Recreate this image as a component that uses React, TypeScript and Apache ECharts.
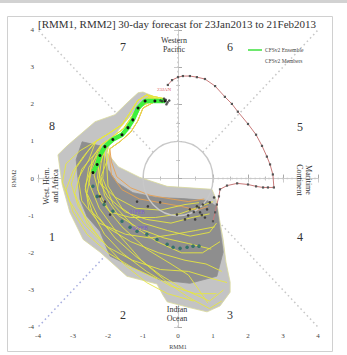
import React, { useEffect, useRef } from "react";
import * as echarts from "echarts";

// Observed RMM trajectory (oldest first), ending 23Jan2013
const observedPath: number[][] = [
  [1.0, -1.15], [1.06, -0.91], [1.11, -0.7], [1.17, -0.48], [1.2, -0.29], [1.4, -0.19],
  [1.69, -0.13], [2.0, -0.16], [2.23, -0.21], [2.43, -0.24], [2.57, -0.24], [2.74, -0.24],
  [2.71, 0.11], [2.63, 0.38], [2.54, 0.59], [2.4, 0.88], [2.23, 1.18], [2.0, 1.47],
  [1.71, 1.8], [1.54, 2.01], [1.34, 2.2], [1.06, 2.49], [0.77, 2.68], [0.54, 2.73],
  [0.34, 2.76], [0.14, 2.76], [0.0, 2.73], [-0.17, 2.65], [-0.29, 2.52],
];

// CFSv2 ensemble mean forecast
const ensembleMean: number[][] = [
  [-0.37, 2.09], [-0.66, 2.09], [-0.94, 2.09], [-1.14, 1.9], [-1.29, 1.58], [-1.43, 1.37],
  [-1.6, 1.18], [-1.86, 1.05], [-2.09, 0.86], [-2.23, 0.62], [-2.31, 0.38], [-2.43, 0.16],
  [-2.43, -0.21], [-2.31, -0.48], [-2.11, -0.7], [-1.86, -0.88], [-1.6, -1.15], [-1.37, -1.31],
  [-1.17, -1.42], [-0.89, -1.5], [-0.6, -1.64], [-0.31, -1.77], [-0.14, -1.85], [0.06, -1.88],
  [0.26, -1.85], [0.43, -1.82], [0.6, -1.82],
];
const greenDays = 12;

// early parts of member tracks
const upperA = [[-0.4, 2.1], [-0.8, 2.18], [-1.0, 2.05], [-1.2, 1.75], [-1.4, 1.4], [-1.7, 1.15], [-2.0, 0.95]];
const upperB = [[-0.4, 2.05], [-0.75, 2.1], [-1.05, 1.95], [-1.25, 1.6], [-1.5, 1.3], [-1.8, 1.05], [-2.1, 0.85]];
const upperC = [[-0.4, 2.1], [-0.85, 2.2], [-1.1, 2.0], [-1.3, 1.7], [-1.55, 1.35], [-1.9, 1.1], [-2.2, 0.9]];
const upperD = [[-0.4, 2.15], [-0.9, 2.25], [-1.15, 2.1], [-1.35, 1.8], [-1.6, 1.45], [-2.0, 1.2], [-2.35, 1.0]];
const upperE = [[-0.4, 2.1], [-0.7, 2.05], [-1.0, 1.9], [-1.15, 1.55], [-1.35, 1.25], [-1.65, 1.0], [-1.95, 0.8]];

const members: number[][][] = [
  [...upperA, [-2.3, 0.6], [-2.5, 0.1], [-2.6, -0.4], [-2.3, -1.0], [-1.8, -1.6], [-1.2, -2.1], [-0.5, -2.6], [0.2, -3.0], [0.9, -3.3], [1.3, -3.0]],
  [...upperD, [-2.7, 0.6], [-3.0, 0.2], [-3.2, -0.3], [-3.0, -0.9], [-2.6, -1.5], [-2.0, -2.0], [-1.3, -2.4], [-0.6, -2.7]],
  [...upperE, [-1.95, 0.5], [-1.9, 0.1], [-1.6, -0.3], [-1.1, -0.55], [-0.5, -0.65], [0.1, -0.75], [0.55, -0.85], [0.85, -0.75]],
  [...upperB, [-2.25, 0.5], [-2.3, 0.0], [-2.0, -0.5], [-1.5, -0.9], [-0.9, -1.1], [-0.2, -1.2], [0.4, -1.05], [0.9, -0.95]],
  [...upperC, [-2.4, 0.5], [-2.65, -0.2], [-2.55, -0.8], [-2.05, -1.3], [-1.35, -1.7], [-0.55, -2.0], [0.2, -2.2], [0.8, -2.3], [1.25, -2.5]],
  [...upperA, [-2.15, 0.6], [-2.4, 0.1], [-2.2, -0.6], [-1.6, -1.3], [-0.9, -1.9], [-0.2, -2.3], [0.3, -2.6], [0.6, -3.0], [0.85, -3.35]],
  [...upperD, [-2.55, 0.5], [-2.85, 0.0], [-2.75, -0.6], [-2.25, -1.2], [-1.5, -1.5], [-0.8, -1.6], [-0.1, -1.5], [0.5, -1.4], [1.05, -1.3]],
  [...upperE, [-1.9, 0.45], [-1.75, 0.05], [-1.35, -0.25], [-0.8, -0.45], [-0.2, -0.55], [0.3, -0.62], [0.75, -0.55]],
  [...upperD, [-2.6, 0.7], [-2.9, 0.3], [-3.05, -0.15], [-2.85, -0.75], [-2.25, -1.6], [-1.55, -2.3], [-0.9, -2.8], [-0.3, -3.1], [0.45, -3.3]],
  [...upperB, [-2.1, 0.55], [-2.15, 0.0], [-1.85, -0.7], [-1.25, -1.3], [-0.6, -1.7], [0.1, -2.0], [0.7, -2.0], [1.2, -1.7]],
  [...upperC, [-2.45, 0.55], [-2.55, -0.1], [-2.25, -0.8], [-1.75, -1.45], [-1.05, -2.2], [-0.3, -2.8], [0.3, -3.2], [0.9, -3.5], [1.25, -3.3]],
  [...upperB, [-2.2, 0.4], [-2.3, -0.3], [-1.95, -0.9], [-1.35, -1.05], [-0.65, -1.05], [0.05, -0.95], [0.65, -0.75], [1.0, -0.62]],
  [...upperC, [-2.35, 0.7], [-2.75, 0.25], [-2.95, -0.4], [-2.6, -1.2], [-2.0, -1.85], [-1.3, -2.2], [-0.5, -2.45], [0.3, -2.5], [1.0, -2.7], [1.4, -2.8]],
  [...upperA, [-2.05, 0.55], [-2.0, -0.2], [-1.6, -0.8], [-1.0, -1.2], [-0.3, -1.4], [0.35, -1.55], [0.9, -1.45], [1.1, -1.2]],
  [...upperE, [-2.0, 0.55], [-2.2, 0.05], [-2.1, -0.45], [-1.7, -1.0], [-1.1, -1.35], [-0.4, -1.6], [0.3, -1.75], [0.95, -1.9]],
  [...upperD, [-2.8, 0.75], [-3.2, 0.4], [-3.3, -0.1], [-3.1, -0.6], [-2.7, -1.2], [-2.2, -1.7]],
  [...upperA, [-2.25, 0.7], [-2.55, 0.3], [-2.65, -0.3], [-2.45, -0.9], [-2.1, -1.5], [-1.6, -2.0], [-0.9, -2.5], [-0.2, -2.9], [0.5, -3.1], [1.1, -3.1]],
  [...upperC, [-2.3, 0.45], [-2.2, -0.15], [-1.8, -0.5], [-1.2, -0.8], [-0.5, -0.85], [0.2, -0.7], [0.6, -0.65]],
];
const orangeMembers = [2, 7];

// member daily markers
const memberDots: number[][] = [
  [-0.45, 2.08], [-0.35, 2.12], [-0.3, 2.05], [-0.4, 2.15], [-0.5, 2.1], [-0.25, 2.1], [-0.33, 2.0],
  [-2.23, -0.48], [-2.09, -0.62], [-1.94, -0.97], [-1.17, -0.62], [-0.51, -0.64], [-0.86, -0.75],
  [-0.03, -0.97], [0.34, -0.83], [0.54, -0.75], [0.63, -0.91], [0.71, -0.7], [0.83, -0.83],
  [0.77, -1.05], [0.91, -0.64], [0.49, -1.1], [0.29, -0.99], [1.03, -0.51], [0.6, -0.78],
  [0.68, -0.98], [0.45, -0.9], [0.2, -1.1],
];

// spread envelopes
const outerSpread: number[][] = [
  [-1.0, 2.33], [-0.74, 2.23], [-0.8, 2.04], [-1.09, 1.93], [-1.31, 1.74], [-1.63, 1.39],
  [-1.91, 1.05], [-2.03, 0.7], [-1.71, 0.32], [-1.09, 0.03], [-0.31, -0.21], [0.97, -0.29],
  [1.09, -0.56], [1.2, -1.18], [1.29, -1.64], [1.37, -2.25], [1.49, -2.79], [1.49, -3.06],
  [1.2, -3.43], [0.83, -3.59], [0.26, -3.46], [-0.31, -3.32], [-0.43, -3.14], [-0.6, -2.84],
  [-1.46, -2.63], [-2.23, -1.98], [-2.71, -1.64], [-3.09, -0.91], [-3.31, -0.16], [-3.43, 0.64],
  [-3.17, 0.88], [-2.37, 1.53], [-1.8, 1.72], [-1.43, 2.06], [-1.14, 2.31],
];
const innerSpread: number[][] = [
  [-2.74, 0.99], [-2.23, 0.88], [-2.09, 0.59], [-2.0, 0.24], [-1.74, -0.11], [-1.29, -0.38],
  [-0.6, -0.51], [0.14, -0.54], [0.83, -0.59], [1.11, -0.75], [1.2, -1.37], [1.29, -1.98],
  [1.11, -2.63], [0.34, -2.82], [-0.51, -2.73], [-1.29, -2.39], [-1.94, -2.09], [-2.23, -1.42],
  [-2.6, -1.02], [-2.8, -0.56], [-2.91, 0.51],
];

// phase dividers [x1, y1, x2, y2]
const phaseLines: number[][] = [
  [-4, 0, -1, 0], [1, 0, 4, 0], [0, 1, 0, 4], [0, -4, 0, -1],
  [0.707, 0.707, 4, 4], [-0.707, 0.707, -4, 4], [0.707, -0.707, 4, -4], [-0.707, -0.707, -4, -4],
];
const amplitudeCircle = [[0, 0, 1]];

const axisRange = [-4, 4];
const serif = "'Liberation Serif', 'DejaVu Serif', serif";

export default function App() {
  const ref = useRef<HTMLDivElement>(null);
  useEffect(() => {
    if (!ref.current) return;
    const chart = echarts.init(ref.current, null, { renderer: "svg" });

    const polySeries = (pts: number[][], fill: string, stroke: string, z: number) => ({
      type: "custom",
      coordinateSystem: "cartesian2d",
      silent: true,
      z,
      data: [[0, 0]],
      encode: { x: 0, y: 1 },
      renderItem: (_p: any, api: any) => ({
        type: "polygon",
        shape: { points: pts.map((p) => api.coord(p)) },
        style: { fill, stroke, lineWidth: 0.8 },
      }),
    });

    const memberSeries = members.map((m, i) => ({
      type: "line",
      data: m,
      showSymbol: false,
      silent: true,
      z: 4,
      lineStyle: { color: orangeMembers.includes(i) ? "#e8a050" : "#e6e640", width: 0.9 },
    }));

    const txt = (x: number, y: number, text: string, fontSize: number, extra: any = {}) => ({
      type: "text", z: 100, x, y, ...extra,
      style: { text, fontSize, fontFamily: serif, fill: "#333", align: "center", verticalAlign: "middle", ...(extra.style || {}) },
    });

    const option: any = {
      animation: false,
      grid: { left: 38, right: 29, top: 30, bottom: 27 },
      xAxis: [
        {
          type: "value", min: axisRange[0], max: axisRange[1], interval: 1,
          name: "RMM1", nameLocation: "middle", nameGap: 15,
          nameTextStyle: { fontSize: 6, color: "#444", fontFamily: serif },
          axisLine: { show: true, lineStyle: { color: "#aaa" } },
          axisTick: { inside: true, length: 4, lineStyle: { color: "#aaa" } },
          minorTick: { show: true, splitNumber: 2, length: 2, lineStyle: { color: "#bbb" } },
          axisLabel: { fontSize: 7, color: "#444", fontFamily: serif, margin: 5 },
          splitLine: { show: false },
        },
        {
          type: "value", position: "top", min: axisRange[0], max: axisRange[1], interval: 1,
          axisLine: { show: true, lineStyle: { color: "#ccc" } },
          axisTick: { inside: true, length: 4, lineStyle: { color: "#ccc" } },
          minorTick: { show: true, splitNumber: 2, length: 2, lineStyle: { color: "#ccc" } },
          axisLabel: { show: false }, splitLine: { show: false },
        },
      ],
      yAxis: [
        {
          type: "value", min: axisRange[0], max: axisRange[1], interval: 1,
          name: "RMM2", nameLocation: "middle", nameGap: 20, nameRotate: 90,
          nameTextStyle: { fontSize: 6, color: "#444", fontFamily: serif },
          axisLine: { show: true, lineStyle: { color: "#aaa" } },
          axisTick: { inside: true, length: 4, lineStyle: { color: "#aaa" } },
          minorTick: { show: true, splitNumber: 2, length: 2, lineStyle: { color: "#bbb" } },
          axisLabel: { fontSize: 7, color: "#444", fontFamily: serif, margin: 4 },
          splitLine: { show: false },
        },
        {
          type: "value", position: "right", min: axisRange[0], max: axisRange[1], interval: 1,
          axisLine: { show: true, lineStyle: { color: "#ccc" } },
          axisTick: { inside: true, length: 4, lineStyle: { color: "#ccc" } },
          minorTick: { show: true, splitNumber: 2, length: 2, lineStyle: { color: "#ccc" } },
          axisLabel: { show: false }, splitLine: { show: false },
        },
      ],
      series: [
        {
          type: "custom", coordinateSystem: "cartesian2d", silent: true, z: 1,
          data: phaseLines, encode: { x: [0, 2], y: [1, 3] },
          renderItem: (p: any, api: any) => {
            const a = api.coord([api.value(0), api.value(1)]);
            const b = api.coord([api.value(2), api.value(3)]);
            const blue = api.value(2) < 0 && api.value(3) < 0;
            return {
              type: "line",
              shape: { x1: a[0], y1: a[1], x2: b[0], y2: b[1] },
              style: { stroke: blue ? "#aab0e0" : "#c8c8c8", lineWidth: 1.5, lineDash: [1.6, 3] },
            };
          },
        },
        polySeries(outerSpread, "#c4c4c4", "#d9d99a", 2),
        polySeries(innerSpread, "#8e8e8e", "#8e8e8e", 3),
        {
          type: "custom", coordinateSystem: "cartesian2d", silent: true, z: 5,
          data: amplitudeCircle, encode: { x: 0, y: 1 },
          renderItem: (p: any, api: any) => {
            const c = api.coord([api.value(0), api.value(1)]);
            const s = api.size([api.value(2), api.value(2)]);
            return {
              type: "ellipse",
              shape: { cx: c[0], cy: c[1], rx: s[0], ry: s[1] },
              style: { fill: "none", stroke: "#c8c8c8", lineWidth: 1.4 },
            };
          },
        },
        ...memberSeries,
        {
          type: "line", data: ensembleMean.slice(0, greenDays), z: 6, silent: true,
          lineStyle: { color: "#3ef03e", width: 4.5 },
          symbol: "circle", symbolSize: 3, itemStyle: { color: "#111" },
        },
        {
          type: "scatter", data: ensembleMean.slice(greenDays), z: 6, silent: true,
          symbol: "circle", symbolSize: 3.5, itemStyle: { color: "#1f6b63" },
        },
        {
          type: "scatter", data: memberDots, z: 6, silent: true,
          symbol: "circle", symbolSize: 2.6, itemStyle: { color: "#2a2a2a" },
        },
        {
          type: "line", data: observedPath, z: 7, silent: true,
          lineStyle: { color: "#c87a7a", width: 1 },
          symbol: "rect", symbolSize: 2.2, itemStyle: { color: "#555" },
        },
      ],
      graphic: [
        { type: "rect", z: 0, shape: { x: 0, y: 0, width: 347, height: 3 }, style: { fill: "#d2d2d2" } },
        { type: "rect", z: 0, shape: { x: 7.5, y: 16.5, width: 325, height: 335 }, style: { fill: "none", stroke: "#d0d0d0", lineWidth: 1 } },
        txt(177, 24, "[RMM1, RMM2] 30-day forecast for 23Jan2013 to 21Feb2013", 11),
        txt(123, 47, "7", 12),
        txt(230, 47, "6", 12),
        txt(52, 126, "8", 12),
        txt(300, 127, "5", 12),
        txt(52, 237, "1", 12),
        txt(300, 237, "4", 12),
        txt(123, 315, "2", 12),
        txt(230, 315, "3", 12),
        txt(174, 45, "Western\nPacific", 8, { style: { lineHeight: 9 } }),
        txt(177, 314, "Indian\nOcean", 8, { style: { lineHeight: 9 } }),
        txt(51, 186, "West. Hem.\nand Africa", 8, { rotation: Math.PI / 2, style: { lineHeight: 9 } }),
        txt(304, 180, "Maritime\nContinent", 8, { rotation: -Math.PI / 2, style: { lineHeight: 9 } }),
        { type: "line", z: 100, shape: { x1: 248, y1: 50, x2: 262, y2: 50 }, style: { stroke: "#3ee03e", lineWidth: 1.5 } },
        txt(265, 50, "CFSv2 Ensemble", 5.5, { style: { align: "left", fill: "#444" } }),
        txt(265, 61, "CFSv2 Members", 5.5, { style: { align: "left", fill: "#444" } }),
        txt(164, 89, "23JAN", 5, { style: { fill: "#e05050" } }),
        txt(137, 212, "01FEB", 5.5, { style: { fill: "#7a5cd0" } }),
        txt(140, 228, "06FEB", 5.5, { style: { fill: "#7a5cd0" } }),
      ],
    };
    chart.setOption(option);
    return () => chart.dispose();
  }, []);
  return (
    <div
      ref={ref}
      style={{ position: "absolute", left: 0, top: 0, width: 347, height: 355, background: "#fff" }}
    />
  );
}
